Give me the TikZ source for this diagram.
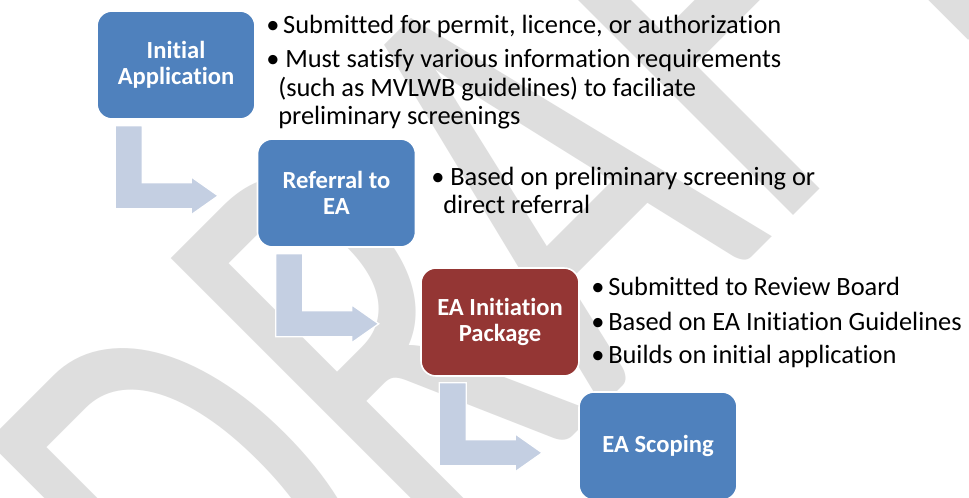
\documentclass[tikz,border=0pt]{standalone}
\usepackage{fontspec}
\setmainfont{Carlito}[Ligatures={NoCommon,NoContextual}, RawFeature=-liga, RawFeature=-clig, RawFeature=-calt]
\usetikzlibrary{calc}
\definecolor{boxblue}{RGB}{79,129,189}
\definecolor{boxred}{RGB}{148,54,52}
\definecolor{arrowblue}{RGB}{196,207,226}
\definecolor{wmgray}{RGB}{222,222,222}
\newcommand\blt{\makebox[12.75pt][l]{•}}
\newcommand\bltb{\makebox[14.25pt][l]{•}}
\begin{document}
\begin{tikzpicture}[x=0.75pt,y=-0.75pt,
  stage/.style={rectangle, rounded corners=11.25pt, minimum width=118.5pt,
    minimum height=81pt, fill=boxblue, draw=white, line width=1.2pt,
    text=white, font=\fontsize{18.45}{19.5}\selectfont\bfseries,
    align=center, inner sep=0pt},
  body/.style={anchor=base west, inner sep=0pt, text=black,
    font=\fontsize{19.8}{21.4}\selectfont},
  wmark/.style={rotate=45, anchor=base west, inner sep=0pt, text=wmgray,
    font=\fontsize{315}{315}\selectfont},
  bent/.pic={\filldraw[fill=arrowblue, draw=white, line width=1pt]
    (19,6) -- (46,6) -- (46,63) -- (95,63) -- (95,57) -- (122,76)
    -- (95,95) -- (95,89) -- (19,89) -- cycle;}
]
\useasboundingbox (0,0) rectangle (969,497);
\clip (0,0) rectangle (969,497);
\fill[white] (0,0) rectangle (969,497);
% watermark
\node[wmark] (wm) at (257,752) {\scalebox{1}[1.52]{DRAFT}};
% stages
\node[stage] (b1) at (176,65) {Initial\\Application};
\node[stage] (b2) at (336.5,193) {Referral to\\EA};
\node[stage, fill=boxred] (b3) at (500,322) {EA Initiation\\Package};
\node[stage] (b4) at (658,446) {EA Scoping};
% bent arrows
\pic at (b1.south west) {bent};
\pic at (b2.south west) {bent};
\pic at (b3.south west) {bent};
% texts
\node[body] (t1a) at (266,33) {\blt Submitted for permit, licence, or authorization};
\node[body] (t1b) at (266,67) {\blt\hspace{1.5pt}Must satisfy various information requirements};
\node[body] (t1c) at (278,96) {(such as MVLWB guidelines) to faciliate};
\node[body] (t1d) at (278,124) {preliminary screenings};
\node[body] (t2a) at (431,185) {\bltb Based on preliminary screening or};
\node[body] (t2b) at (443,213) {direct referral};
\node[body] (t3a) at (591,295) {\blt Submitted to Review Board};
\node[body] (t3b) at (591,330) {\blt Based on EA Initiation Guidelines};
\node[body] (t3c) at (591,363) {\blt Builds on initial application};
\end{tikzpicture}
\end{document}
